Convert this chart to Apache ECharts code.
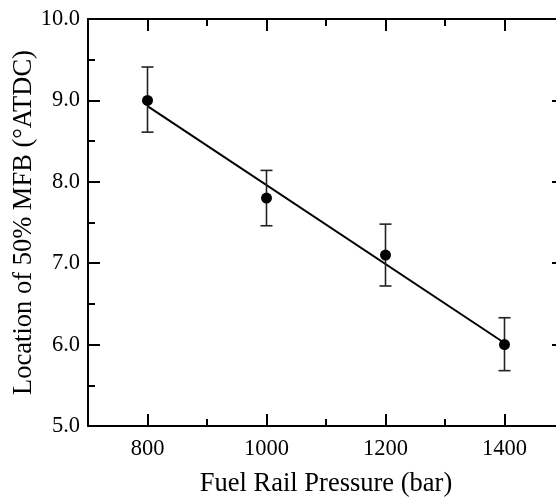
<!DOCTYPE html>
<html><head><meta charset="utf-8">
<script src="https://cdn.jsdelivr.net/npm/echarts@6/dist/echarts.min.js"></script>
<style>html,body{margin:0;padding:0;background:#fff}#c{width:556px;height:499px}</style>
</head><body><div id="c"></div>
<script>
var pressure = [800, 1000, 1200, 1400];
var mfb50 = [9.0, 7.8, 7.1, 6.0];
var errUpper = [9.41, 8.14, 7.48, 6.33];
var errLower = [8.61, 7.46, 6.72, 5.68];
var fitX = [800, 1400];
var fitY = [8.93, 6.02];
var xTicks = [800, 1000, 1200, 1400];
var xMinorTicks = [900, 1100, 1300];
var yTicks = ['5.0', '6.0', '7.0', '8.0', '9.0', '10.0'];

var FONT = 'Liberation Serif';
var chart = echarts.init(document.getElementById('c'));
var lineSt = {color: '#000', width: 2};
var gridRect = {left: 88, top: 19, width: 476, height: 407, containLabel: false, outerBoundsMode: 'none'};

function xAxis(gi, pos, minor, showLabel) {
  return {
    type: 'value', gridIndex: gi, position: pos, min: 700, max: 1500, interval: 100,
    axisLine: {show: !minor, lineStyle: lineSt},
    axisTick: {show: true, inside: true, length: minor ? 7 : 12, lineStyle: lineSt,
      customValues: minor ? xMinorTicks : xTicks},
    splitLine: {show: false},
    name: showLabel ? 'Fuel Rail Pressure (bar)' : '',
    nameLocation: 'middle', nameGap: 45, nameMoveOverlap: false,
    nameTextStyle: {fontFamily: FONT, fontSize: 26.5, color: '#000'},
    axisLabel: {show: showLabel, customValues: xTicks, margin: 12, fontFamily: FONT, fontSize: 22.5, color: '#000',
      formatter: function (v) { return String(v); }}
  };
}
function yAxis(gi, pos, showLabel) {
  return {
    type: 'value', gridIndex: gi, position: pos, min: 5, max: 10, interval: 1,
    axisLine: {show: gi === 0, lineStyle: lineSt},
    axisTick: {show: gi === 0, inside: true, length: 12, lineStyle: lineSt},
    minorTick: {show: gi === 0, splitNumber: 2, length: 7, lineStyle: lineSt},
    splitLine: {show: false},
    name: showLabel ? 'Location of 50% MFB (°ATDC)' : '',
    nameLocation: 'middle', nameGap: 50, nameRotate: 90, nameMoveOverlap: false,
    nameTextStyle: {fontFamily: FONT, fontSize: 26.5, color: '#000'},
    axisLabel: {show: showLabel, margin: 8, fontFamily: FONT, fontSize: 22.5, color: '#000',
      formatter: function (v) { var i = Math.round(v - 5); return yTicks[i] || ''; }}
  };
}

var errData = pressure.map(function (p, i) { return [p, errLower[i], errUpper[i]]; });

chart.setOption({
  animation: false,
  grid: [Object.assign({}, gridRect), Object.assign({}, gridRect)],
  xAxis: [xAxis(0, 'bottom', false, true), xAxis(0, 'top', false, false),
          xAxis(1, 'bottom', true, false), xAxis(1, 'top', true, false)],
  yAxis: [yAxis(0, 'left', true), yAxis(0, 'right', false),
          yAxis(1, 'left', false), yAxis(1, 'right', false)],
  series: [
    {
      type: 'line', xAxisIndex: 0, yAxisIndex: 0,
      data: fitX.map(function (x, i) { return [x, fitY[i]]; }),
      showSymbol: false, lineStyle: {color: '#000', width: 2}, z: 2
    },
    {
      type: 'custom', xAxisIndex: 0, yAxisIndex: 0, data: errData, z: 3,
      renderItem: function (params, api) {
        var x = api.value(0);
        var lo = api.coord([x, api.value(1)]);
        var hi = api.coord([x, api.value(2)]);
        var hw = 6;
        var st = {stroke: '#222', lineWidth: 1.6};
        return {type: 'group', children: [
          {type: 'line', shape: {x1: lo[0], y1: lo[1], x2: hi[0], y2: hi[1]}, style: st},
          {type: 'line', shape: {x1: lo[0] - hw, y1: lo[1], x2: lo[0] + hw, y2: lo[1]}, style: st},
          {type: 'line', shape: {x1: hi[0] - hw, y1: hi[1], x2: hi[0] + hw, y2: hi[1]}, style: st}
        ]};
      }
    },
    {
      type: 'scatter', xAxisIndex: 0, yAxisIndex: 0,
      data: pressure.map(function (p, i) { return [p, mfb50[i]]; }),
      symbol: 'circle', symbolSize: 11, itemStyle: {color: '#000', opacity: 1}, z: 4
    }
  ]
});
</script>
</body></html>
